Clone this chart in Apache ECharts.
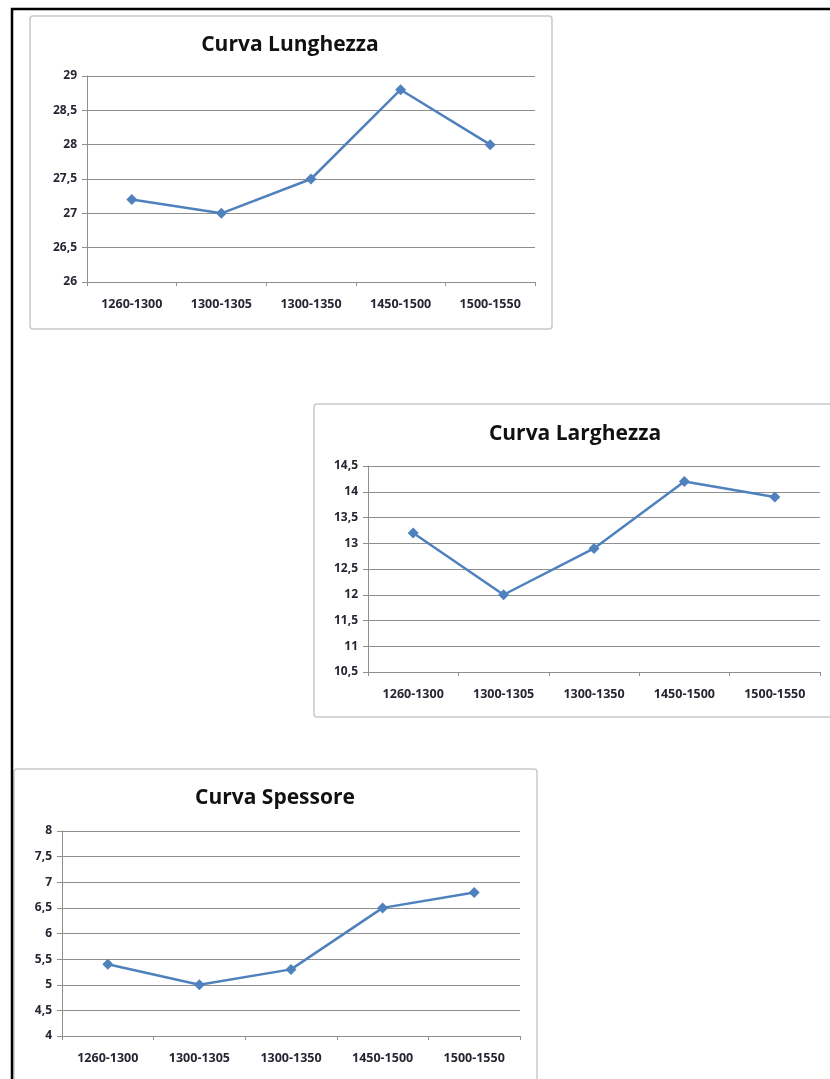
<!DOCTYPE html>
<html>
<head>
<meta charset="utf-8">
<script src="https://cdn.jsdelivr.net/npm/echarts@6/dist/echarts.min.js"></script>
<style>
  html, body { margin: 0; padding: 0; background: #fff; }
  #main { width: 830px; height: 1079px; }
</style>
</head>
<body>
<div id="main"></div>
<script>
// Periods shared by all three curves
const periods = ['1260-1300', '1300-1305', '1300-1350', '1450-1500', '1500-1550'];

// Measured values per period
const lunghezza = [27.2, 27.0, 27.5, 28.8, 28.0];
const larghezza = [13.2, 12.0, 12.9, 14.2, 13.9];
const spessore  = [5.4, 5.0, 5.3, 6.5, 6.8];

// Chart titles
const titles = ['Curva Lunghezza', 'Curva Larghezza', 'Curva Spessore'];

// Value-axis ranges [min, max, step]
const ranges = [[26, 29, 0.5], [10.5, 14.5, 0.5], [4, 8, 0.5]];

const LINE_BLUE = '#4f81bd';
const GRID_GRAY = '#8f8f8f';
const FONT = '"Open Sans", "Liberation Sans", sans-serif';

// Panel layout: frame box, plot area, title centre
const panels = [
  { box: [30, 16, 522, 313],  grid: [87, 76, 448, 206],  title: [290, 35] },
  { box: [314, 404, 540, 313], grid: [368, 466, 452, 206], title: [575, 424] },
  { box: [14, 769, 523, 340], grid: [62, 831, 458, 205],  title: [275, 788] }
];
const seriesData = [lunghezza, larghezza, spessore];

const chart = echarts.init(document.getElementById('main'), null, { renderer: 'canvas' });

const commaFmt = v => String(v).replace('.', ',');

const option = {
  backgroundColor: '#ffffff',
  animation: false,
  title: panels.map((p, i) => ({
    text: titles[i],
    left: p.title[0],
    top: p.title[1],
    textAlign: 'center',
    padding: 0,
    textStyle: { fontFamily: FONT, fontWeight: 'bold', fontSize: 21, color: '#111' }
  })),
  grid: panels.map(p => ({
    left: p.grid[0], top: p.grid[1], width: p.grid[2], height: p.grid[3],
    containLabel: false
  })),
  xAxis: panels.map((p, i) => ({
    type: 'category',
    gridIndex: i,
    data: periods,
    boundaryGap: true,
    axisLine: { lineStyle: { color: GRID_GRAY, width: 1 } },
    axisTick: { show: true, length: 4, lineStyle: { color: GRID_GRAY } },
    axisLabel: {
      margin: 16, fontFamily: FONT, fontSize: 12.5, fontWeight: 'bold', color: '#262633',
      interval: 0
    },
    splitLine: { show: false }
  })),
  yAxis: panels.map((p, i) => ({
    type: 'value',
    gridIndex: i,
    min: ranges[i][0], max: ranges[i][1], interval: ranges[i][2],
    axisLine: { show: true, lineStyle: { color: GRID_GRAY, width: 1 } },
    axisTick: { show: true, length: 5, lineStyle: { color: GRID_GRAY } },
    axisLabel: {
      margin: 10, fontFamily: FONT, fontSize: 12, fontWeight: 'bold', color: '#262633',
      formatter: commaFmt
    },
    splitLine: { show: true, lineStyle: { color: GRID_GRAY, width: 1 } }
  })),
  series: seriesData.map((d, i) => ({
    type: 'line',
    xAxisIndex: i,
    yAxisIndex: i,
    data: d,
    symbol: 'diamond',
    symbolSize: 11,
    itemStyle: { color: LINE_BLUE },
    lineStyle: { color: LINE_BLUE, width: 2.5 },
    z: 5
  })),
  graphic: [
    // chart frames
    ...panels.map(p => ({
      type: 'rect',
      z: -10,
      shape: { x: p.box[0], y: p.box[1], width: p.box[2], height: p.box[3], r: 3 },
      style: { fill: '#ffffff', stroke: '#c9c9c9', lineWidth: 1.5 }
    })),
    // page border (top and left)
    {
      type: 'polyline',
      z: 20,
      shape: { points: [[12, 1079], [12, 9], [830, 9]] },
      style: { stroke: '#000', lineWidth: 2.5, fill: null }
    }
  ]
};

chart.setOption(option);
</script>
</body>
</html>
